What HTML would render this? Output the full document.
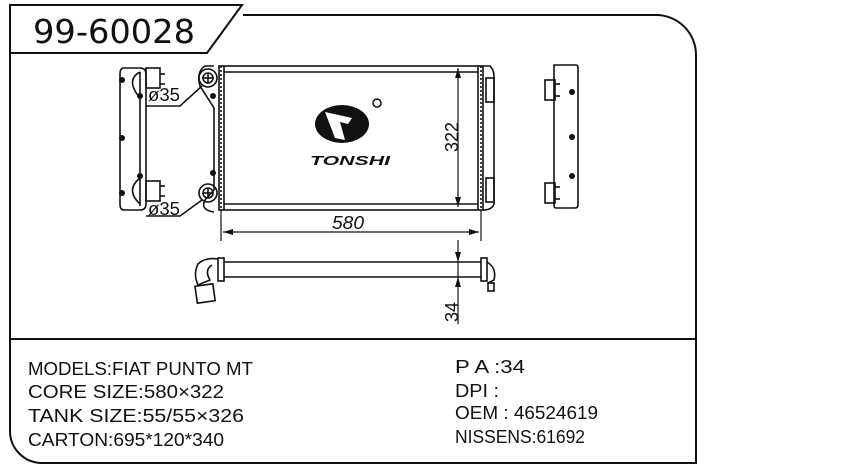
<!DOCTYPE html>
<html><head><meta charset="utf-8"><style>
html,body{margin:0;padding:0;background:#fff;}
svg{display:block;}
.t{font-family:"Liberation Sans",sans-serif;font-size:16px;fill:#111;}
</style></head><body>
<svg width="845" height="468" viewBox="0 0 845 468" xmlns="http://www.w3.org/2000/svg">
<g fill="none" stroke="#111" stroke-width="2">
<path d="M243,15 H656 A40,40 0 0 1 696,55 V463 H42 A32,32 0 0 1 10,431 V53"/>
<path d="M10,53 V5 H242 L207,53 H10"/>
<line x1="10" y1="339" x2="696" y2="339"/>
</g>
<text x="33" y="43" textLength="162" lengthAdjust="spacingAndGlyphs" style="font-family:'DejaVu Sans',sans-serif;font-size:33px;fill:#111">99-60028</text>

<g fill="none" stroke="#111" stroke-width="1.6">
<rect x="219" y="66" width="264" height="144"/>
<line x1="224" y1="72" x2="478" y2="72"/>
<line x1="224" y1="204" x2="478" y2="204"/>
<line x1="224" y1="66" x2="224" y2="210"/>
<line x1="478" y1="66" x2="478" y2="210"/>
<line x1="221" y1="66" x2="221" y2="210" stroke-dasharray="2,2"/>
<line x1="481" y1="66" x2="481" y2="210" stroke-dasharray="2,2"/>
<path d="M214,66 L205,66 Q196,72 200,86 L214,108 V190 L205,200 Q200,210 214,212"/>
<circle cx="208" cy="78" r="9"/><circle cx="208" cy="78" r="5"/>
<circle cx="208" cy="193" r="9"/><circle cx="208" cy="193" r="5"/>
<line x1="203" y1="78" x2="213" y2="78"/><line x1="208" y1="73" x2="208" y2="83"/>
<line x1="203" y1="193" x2="213" y2="193"/><line x1="208" y1="188" x2="208" y2="198"/>
<path d="M202,86 L180,106 H146"/>
<path d="M202,200 L180,216 H146"/>
<path d="M124,68 H140 Q146,68 146,74 V204 Q146,210 140,210 H124 Q120,210 120,204 V74 Q120,68 124,68"/>
<line x1="140" y1="72" x2="140" y2="206"/>
<path d="M140,72 Q125,80 140,98"/><path d="M140,178 Q125,190 140,204"/>
<rect x="146" y="68" width="14" height="20"/><rect x="146" y="181" width="14" height="20"/>
<line x1="160" y1="74" x2="165" y2="74"/><line x1="160" y1="84" x2="165" y2="84"/>
<line x1="160" y1="186" x2="165" y2="186"/><line x1="160" y1="196" x2="165" y2="196"/>
<path d="M483,66 H490 Q494,70 494,76 V204 Q492,210 483,210"/>
<rect x="486" y="78" width="8" height="24"/><rect x="486" y="178" width="8" height="24"/>
<path d="M554,65 H576 Q578,65 578,68 V205 Q578,208 575,208 H556 Q554,208 554,205 Z"/>
<rect x="545" y="80" width="10" height="20"/><rect x="545" y="183" width="10" height="20"/>
<line x1="555" y1="84" x2="560" y2="84"/><line x1="555" y1="96" x2="560" y2="96"/>
<line x1="555" y1="187" x2="560" y2="187"/><line x1="555" y1="199" x2="560" y2="199"/>
<line x1="458" y1="68" x2="458" y2="207" stroke-width="1.2"/>
<line x1="221" y1="210" x2="221" y2="241" stroke-width="1.2"/>
<line x1="481" y1="210" x2="481" y2="241" stroke-width="1.2"/>
<line x1="223" y1="232" x2="479" y2="232" stroke-width="1.2"/>
<line x1="224" y1="262" x2="481" y2="262"/><line x1="224" y1="277" x2="481" y2="277"/>
<rect x="218" y="258" width="6" height="23"/><rect x="481" y="258" width="6" height="23"/>
<path d="M218,259 Q205,257 198,264 Q193,274 198,285 L210,280 Q204,270 212,265"/>
<rect x="196" y="285" width="18" height="17" transform="rotate(-8 205 293)"/>
<path d="M487,262 Q497,268 494,280 L488,283"/>
<rect x="488" y="283" width="6" height="8"/>
<line x1="458" y1="240" x2="458" y2="324" stroke-width="1.2"/>
</g>
<g fill="#111">
<polygon points="458,68 455,78 461,78"/><polygon points="458,207 455,197 461,197"/>
<polygon points="223,232 233,229 233,235"/><polygon points="479,232 469,229 469,235"/>
<polygon points="458,262 455,252 461,252"/><polygon points="458,277 455,287 461,287"/>
<circle cx="122" cy="80" r="3"/><circle cx="140" cy="96" r="3"/><circle cx="122" cy="138" r="3"/><circle cx="140" cy="176" r="3"/><circle cx="122" cy="193" r="3"/>
<circle cx="213" cy="96" r="3"/><circle cx="213" cy="173" r="3"/>
<circle cx="572" cy="92" r="3"/><circle cx="572" cy="137" r="3"/><circle cx="572" cy="176" r="3"/>
<ellipse cx="342" cy="124" rx="27" ry="19"/>
</g>
<path d="M325,112 L352,118 L348,124 L340,122 L345,140 L335,138 Z" fill="#fff"/>
<circle cx="377" cy="103" r="4" fill="none" stroke="#111" stroke-width="1.5"/>
<text x="310" y="165" style="font-family:'Liberation Sans',sans-serif;font-weight:900;font-style:italic;font-size:13px;fill:#111" textLength="80" lengthAdjust="spacingAndGlyphs">TONSHI</text>
<g class="t" style="font-size:18px">
<text x="148" y="101" textLength="32" lengthAdjust="spacingAndGlyphs">ø35</text>
<text x="148" y="215" textLength="32" lengthAdjust="spacingAndGlyphs">ø35</text>
<text x="332" y="229" style="font-style:italic" textLength="32" lengthAdjust="spacingAndGlyphs">580</text>
<text transform="translate(458,152) rotate(-90)" textLength="30" lengthAdjust="spacingAndGlyphs">322</text>
<text transform="translate(458,322) rotate(-90)" textLength="20" lengthAdjust="spacingAndGlyphs">34</text>
</g>
<g class="t" style="font-size:18px">
<text x="28" y="375" textLength="225" lengthAdjust="spacingAndGlyphs">MODELS:FIAT PUNTO  MT</text>
<text x="28" y="398" textLength="196" lengthAdjust="spacingAndGlyphs">CORE SIZE:580×322</text>
<text x="28" y="422" textLength="216" lengthAdjust="spacingAndGlyphs">TANK SIZE:55/55×326</text>
<text x="28" y="446" textLength="196" lengthAdjust="spacingAndGlyphs">CARTON:695*120*340</text>
<text x="455" y="373" textLength="70" lengthAdjust="spacingAndGlyphs">P A :34</text>
<text x="455" y="397" textLength="44" lengthAdjust="spacingAndGlyphs">DPI :</text>
<text x="455" y="419" textLength="143" lengthAdjust="spacingAndGlyphs">OEM : 46524619</text>
<text x="455" y="443" textLength="130" lengthAdjust="spacingAndGlyphs">NISSENS:61692</text>
</g>
</svg>
</body></html>
